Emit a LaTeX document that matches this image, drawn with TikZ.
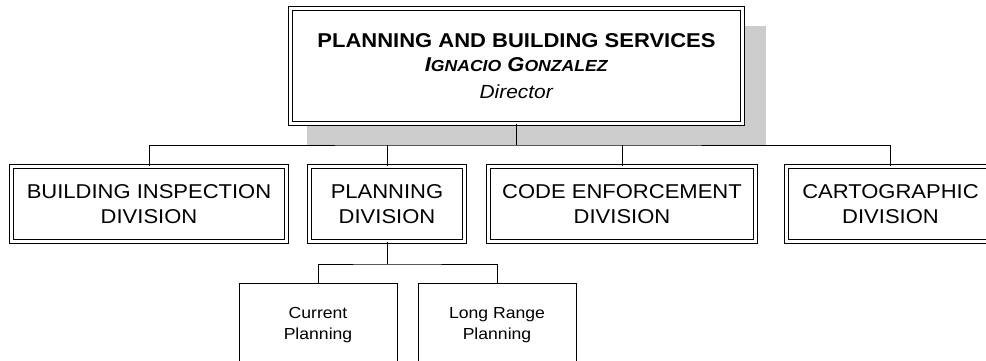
\documentclass[tikz,border=0pt]{standalone}
\usepackage{fontspec}
\setmainfont[FakeStretch=1.1]{Liberation Sans}

\begin{document}
\begin{tikzpicture}[
		x=1pt, y=-1pt,
		conn/.style={line width=1pt},
		topbox/.style={draw, double, double distance=3pt, line width=1.2pt, fill=white, align=center,
			minimum width=451.6pt, minimum height=114.6pt, inner sep=0pt, font=\fontsize{20}{24}\selectfont},
		divbox/.style={draw, double, double distance=2.6pt, line width=1.1pt, fill=white, align=center,
			minimum height=75.2pt, inner sep=0pt, font=\fontsize{20}{25}\selectfont},
		subbox/.style={draw, line width=1pt, fill=white, align=center,
			minimum width=158pt, minimum height=84pt, inner sep=0pt, font=\fontsize{16}{21}\selectfont}
	]
	\useasboundingbox (0, 0) rectangle (986, 360);
	\clip (0, 0) rectangle (986, 360);

	\fill[black!20] (307, 26) rectangle (766, 145);
	\node[topbox] (pbs) at (516.5, 66) {\textbf{PLANNING AND BUILDING SERVICES}\\
		\textbf{\textit{I{\fontsize{16}{24}\selectfont GNACIO} G{\fontsize{16}{24}\selectfont ONZALEZ}}}\\[3pt]
		\textit{\fontsize{19}{24}\selectfont Director}};

	\node[divbox, minimum width=275.2pt] (bid) at (149, 204) {BUILDING INSPECTION\\DIVISION};
	\node[divbox, minimum width=155.2pt] (pd) at (387, 204) {PLANNING\\DIVISION};
	\node[divbox, minimum width=267.2pt] (ced) at (622, 204) {CODE ENFORCEMENT\\DIVISION};
	\node[divbox, minimum width=208.2pt] (cd) at (890.5, 204) {CARTOGRAPHIC\\DIVISION};

	\node[subbox] (cp) at (318, 325) {Current\\Planning};
	\node[subbox] (lrp) at (497, 325) {Long Range\\Planning};

	\coordinate (bus) at (516.5, 145);
	\coordinate (pbus) at (387, 264);
	\draw[conn] (pbs.south) -- (bus);
	\draw[conn] (bid.north) |- (bus) -| (cd.north);
	\draw[conn] (pd.north) -- (pd.north |- bus);
	\draw[conn] (ced.north) -- (ced.north |- bus);

	\draw[conn] (pd.south) -- (pbus);
	\draw[conn] (cp.north) |- (pbus) -| (lrp.north);
\end{tikzpicture}
\end{document}
